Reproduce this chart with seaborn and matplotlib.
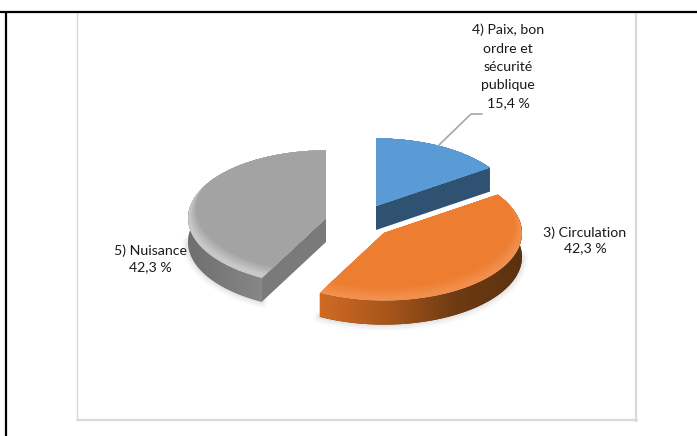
import numpy as np
import matplotlib
matplotlib.use("Agg")
import matplotlib.pyplot as plt
import seaborn as sns

# Chart data
categories = ["4) Paix, bon\nordre et\nsécurité\npublique", "3) Circulation", "5) Nuisance"]
shares = [15.4, 42.3, 42.3]
share_labels = ["15,4 %", "42,3 %", "42,3 %"]

# Look of the fake 3D pie (pixel positions)
W, H = 697, 436
SQUASH = 0.49
RADIUS = 138
DEPTH = 24
APEX = [(376, 206), (384, 233), (326, 218)]
TOP_COLORS = ["#5b9bd5", "#ed7d31", "#a3a3a3"]
RIM_COLORS = ["#5b9bd5", "#f28f4c", "#c8c8c8"]
SIDE_COLORS = [["#2f5272", "#2f5272"],
               ["#d06a24", "#a8561b", "#6e3b13", "#5c3110"],
               ["#6f6f6f", "#858585", "#a9a9a9"]]
CUT_COLORS = ["#2f5272", None, "#7a7a7a"]

sns.set_theme(style="white")
plt.rcParams["font.family"] = ["Lato", "DejaVu Sans"]


def px(x, y):
    return x, (H - y) / SQUASH


def arc(center, t1, t2, drop=0, n=80):
    t = np.radians(np.linspace(t1, t2, n))
    return (center[0] + RADIUS * np.cos(t),
            center[1] + RADIUS * np.sin(t) - drop / SQUASH)


fig = plt.figure(figsize=(W / 100, H / 100), dpi=100)
ax = fig.add_axes([0, 0, 1, 1])

wedges, _ = ax.pie(shares, startangle=90, counterclock=False, radius=RADIUS,
                   colors=TOP_COLORS, wedgeprops={"linewidth": 0})
extent = (0, W, 0, H / SQUASH)

for i, w in enumerate(wedges):
    z = [1, 7, 4][i]
    center = px(*APEX[i])
    w.set_center(center)
    w.set_zorder(z + 0.5)

    # side wall, shaded left to right
    x1, y1 = arc(center, w.theta1, w.theta2)
    x2, y2 = arc(center, w.theta1, w.theta2, drop=DEPTH)
    xs = np.r_[x1, x2[::-1]]
    ys = np.r_[y1, y2[::-1]]
    # soft shadow under the low part of the wall
    low = y2 < center[1] - DEPTH / SQUASH
    for lw, a in [(9, 0.025), (6, 0.035), (3, 0.05)]:
        ax.plot(x2[low], y2[low], color="k", alpha=a, lw=lw, zorder=0.5)
    poly = ax.fill(xs, ys, color=SIDE_COLORS[i][-1], lw=0, zorder=z)[0]
    cmap = sns.blend_palette(SIDE_COLORS[i], as_cmap=True)
    img = ax.imshow(np.linspace(0, 1, 256)[None, :], cmap=cmap, aspect="auto",
                    extent=(xs.min(), xs.max(), ys.min(), ys.max()), zorder=z + 0.1)
    img.set_clip_path(poly)

    # cut face that looks towards the viewer
    if CUT_COLORS[i]:
        edge = w.theta1 if i == 0 else w.theta2
        ex, ey = arc(center, edge, edge, n=1)
        cx = [center[0], ex[0], ex[0], center[0]]
        cy = [center[1], ey[0], ey[0] - DEPTH / SQUASH, center[1] - DEPTH / SQUASH]
        ax.fill(cx, cy, color=CUT_COLORS[i], lw=0, zorder=z + 0.3)

    # rim highlight, stronger on the low side
    w.set_facecolor(RIM_COLORS[i])
    shades = sns.blend_palette([RIM_COLORS[i], TOP_COLORS[i]], 8)
    for k, shade in enumerate(shades):
        lift = (k + 2) / SQUASH
        inner, _ = ax.pie([1], radius=RADIUS - k - 1, colors=[shade],
                          center=(center[0], center[1] + lift),
                          wedgeprops={"linewidth": 0})
        inner[0].set_theta1(w.theta1 - 40)
        inner[0].set_theta2(w.theta2 + 40)
        inner[0].set_zorder(z + 0.6 + k * 0.01)
        inner[0].set_clip_on(True)
        inner[0].set_clip_path(w)

# leader line of the small slice
lx, ly = zip(px(482, 114), px(471, 114), px(438, 146))
ax.plot(lx, ly, color="#a6a6a6", lw=1.2, zorder=3)

# data labels
tx = [508, 585, 150]
ty = [66.5, 240.5, 259]
for cat, lab, x, y, sp in zip(categories, share_labels, tx, ty, [1.62, 1.32, 1.38]):
    ax.text(*px(x, y), f"{cat}\n{lab}", ha="center", va="center", fontsize=10.2,
            color="#1a1a1a", linespacing=sp, zorder=10)

# chart area border, then the table lines round it
ax.plot(*zip(px(77, 12), px(77, 420)), color="#d9d9d9", lw=1, zorder=8)
ax.plot(*zip(px(636, 12), px(636, 420.5)), color="#d9d9d9", lw=1.6, zorder=8)
ax.plot(*zip(px(77, 420), px(637, 420)), color="#d9d9d9", lw=1.6, zorder=8)
ax.plot(*zip(px(0, 12), px(W, 12)), color="black", lw=1.6, zorder=9, solid_capstyle="butt")
ax.plot(*zip(px(6, 11), px(6, H)), color="black", lw=1.6, zorder=9, solid_capstyle="butt")

# heading above the table is cut off by the crop, only descenders show
for ch, x in [("y", 180), ("p", 223), ("g", 344)]:
    ax.text(*px(x, -5), ch, ha="center", va="baseline", fontsize=11,
            fontweight="bold", color="black", clip_on=False)

ax.set_aspect("auto")
ax.set_xlim(extent[0], extent[1])
ax.set_ylim(extent[2], extent[3])
ax.axis("off")
fig.savefig("out.png", dpi=100, facecolor="white")
